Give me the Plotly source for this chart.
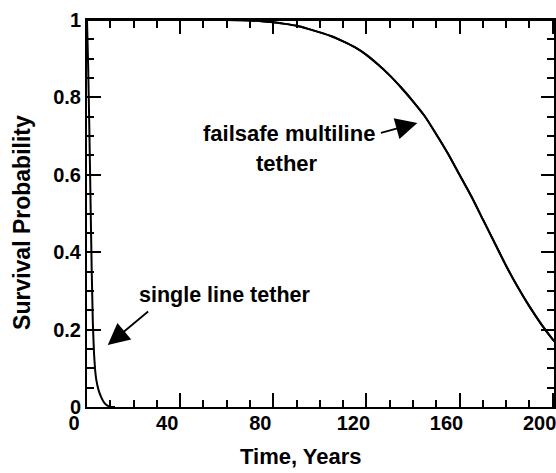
import plotly.graph_objects as go

# Data
multi_t = [0, 10, 20, 30, 40, 50, 60, 70, 75, 80, 85, 90, 95, 100, 105, 110, 115, 120,
           125, 130, 135, 140, 145, 150, 155, 160, 165, 170, 175, 180, 185, 190, 195, 200, 201]
multi_p = [1, 1, 1, 1, 1, 1, 1, 0.999, 0.997, 0.994, 0.99, 0.985, 0.977, 0.968, 0.958, 0.945,
           0.93, 0.91, 0.885, 0.857, 0.825, 0.79, 0.752, 0.705, 0.655, 0.6, 0.545, 0.485, 0.425,
           0.365, 0.31, 0.26, 0.215, 0.175, 0.168]

single_t = [0, 0.5, 1, 1.5, 2, 2.5, 3, 3.5, 4, 5, 6, 7, 8, 9, 10, 12]
single_p = [1, 0.88, 0.72, 0.54, 0.36, 0.22, 0.14, 0.095, 0.07, 0.043, 0.027, 0.015,
            0.007, 0.003, 0.001, 0]

x_ticks = [0, 40, 80, 120, 160, 200]
y_ticks = [0, 0.2, 0.4, 0.6, 0.8, 1]
y_tick_text = ["0", "0.2", "0.4", "0.6", "0.8", "1"]
x_minor_ticks = list(range(0, 201, 10))
y_minor_ticks = [round(i * 0.05, 2) for i in range(21)]

FONT = "Liberation Sans, Arial, Helvetica, sans-serif"
X_RANGE = [0, 201]
Y_RANGE = [0, 1]

fig = go.Figure()
fig.add_trace(go.Scatter(x=multi_t, y=multi_p, mode="lines",
                         line=dict(color="black", width=2, shape="spline", smoothing=0.6),
                         hoverinfo="skip"))
fig.add_trace(go.Scatter(x=single_t, y=single_p, mode="lines",
                         line=dict(color="black", width=2, shape="spline", smoothing=0.4),
                         hoverinfo="skip"))
# same curve on the overlaid axes (identical position) so the top/right axes are drawn
fig.add_trace(go.Scatter(x=multi_t, y=multi_p, xaxis="x2", yaxis="y2", mode="lines",
                         line=dict(color="black", width=2, shape="spline", smoothing=0.6),
                         hoverinfo="skip", showlegend=False))

tick_font = dict(family=FONT, size=20, color="black")

xminor = dict(dtick=10, tick0=0, ticks="inside", ticklen=7, tickwidth=1.5,
              tickcolor="black", showgrid=False)
yminor = dict(dtick=0.05, tick0=0, ticks="inside", ticklen=7, tickwidth=1.5,
              tickcolor="black", showgrid=False)

main_common = dict(showgrid=False, zeroline=False, showline=True, linecolor="black",
                   linewidth=2, ticks="inside", ticklen=14, tickwidth=2, tickcolor="black",
                   tickfont=tick_font, automargin=False, mirror="ticks")
over_common = dict(showgrid=False, zeroline=False, showline=True, linecolor="black",
                   linewidth=2, ticks="inside", ticklen=7, tickwidth=1.5, tickcolor="black",
                   showticklabels=False, automargin=False, anchor="free", position=1.0)

fig.update_layout(
    xaxis=dict(range=X_RANGE, tickvals=x_ticks, ticktext=[f"<b>{v}</b>" for v in x_ticks],
               minor=xminor, side="bottom", **main_common),
    yaxis=dict(range=Y_RANGE, tickvals=y_ticks, ticktext=[f"<b>{t}</b>" for t in y_tick_text],
               minor=yminor, side="left", **main_common),
    xaxis2=dict(range=X_RANGE, tickmode="array", tickvals=x_minor_ticks, overlaying="x",
                side="top", **over_common),
    yaxis2=dict(range=Y_RANGE, tickmode="array", tickvals=y_minor_ticks, overlaying="y",
                side="right", **over_common),
)
try:
    fig.update_layout(xaxis=dict(ticklabelstandoff=-3, ticklabelshift=-13,
                                 ticklabeloverflow="allow"))
except Exception:
    pass

ann_font = dict(family=FONT, size=22, color="black")
annotations = [
    dict(text="<b>Time, Years</b>", x=0.457, y=-0.127, xref="paper", yref="paper",
         xanchor="center", yanchor="middle", showarrow=False, font=ann_font),
    dict(text="<b>Survival Probability</b>", x=-0.139, y=0.478, xref="paper", yref="paper",
         xanchor="center", yanchor="middle", showarrow=False, textangle=-90,
         font=dict(family=FONT, size=23, color="black")),
    dict(text="<b>failsafe multiline</b>", x=86.7, y=0.707, xref="x", yref="y",
         showarrow=False, font=ann_font),
    dict(text="<b>tether</b>", x=85.8, y=0.630, xref="x", yref="y",
         showarrow=False, font=ann_font),
    dict(text="<b>single line tether</b>", x=58.9, y=0.289, xref="x", yref="y",
         showarrow=False, font=dict(family=FONT, size=21.5, color="black")),
    dict(text="", x=141.9, y=0.734, ax=125.6, ay=0.707, xref="x", yref="y",
         axref="x", ayref="y", showarrow=True, arrowhead=2, arrowsize=2.4,
         arrowwidth=1.8, arrowcolor="black"),
    dict(text="", x=8.9, y=0.16, ax=26.9, ay=0.25, xref="x", yref="y",
         axref="x", ayref="y", showarrow=True, arrowhead=2, arrowsize=2.4,
         arrowwidth=1.8, arrowcolor="black"),
]

fig.update_layout(
    width=556, height=473,
    margin=dict(l=87, r=1, t=20, b=66, autoexpand=False),
    paper_bgcolor="white", plot_bgcolor="white",
    showlegend=False,
    font=dict(family=FONT, color="black"),
    annotations=annotations,
)

fig.write_html(
    "out.html",
    config={"displayModeBar": False},
    post_script="document.body.style.margin='0';document.body.style.padding='0';"
                "document.documentElement.style.margin='0';"
                "document.documentElement.style.overflow='hidden';",
)
